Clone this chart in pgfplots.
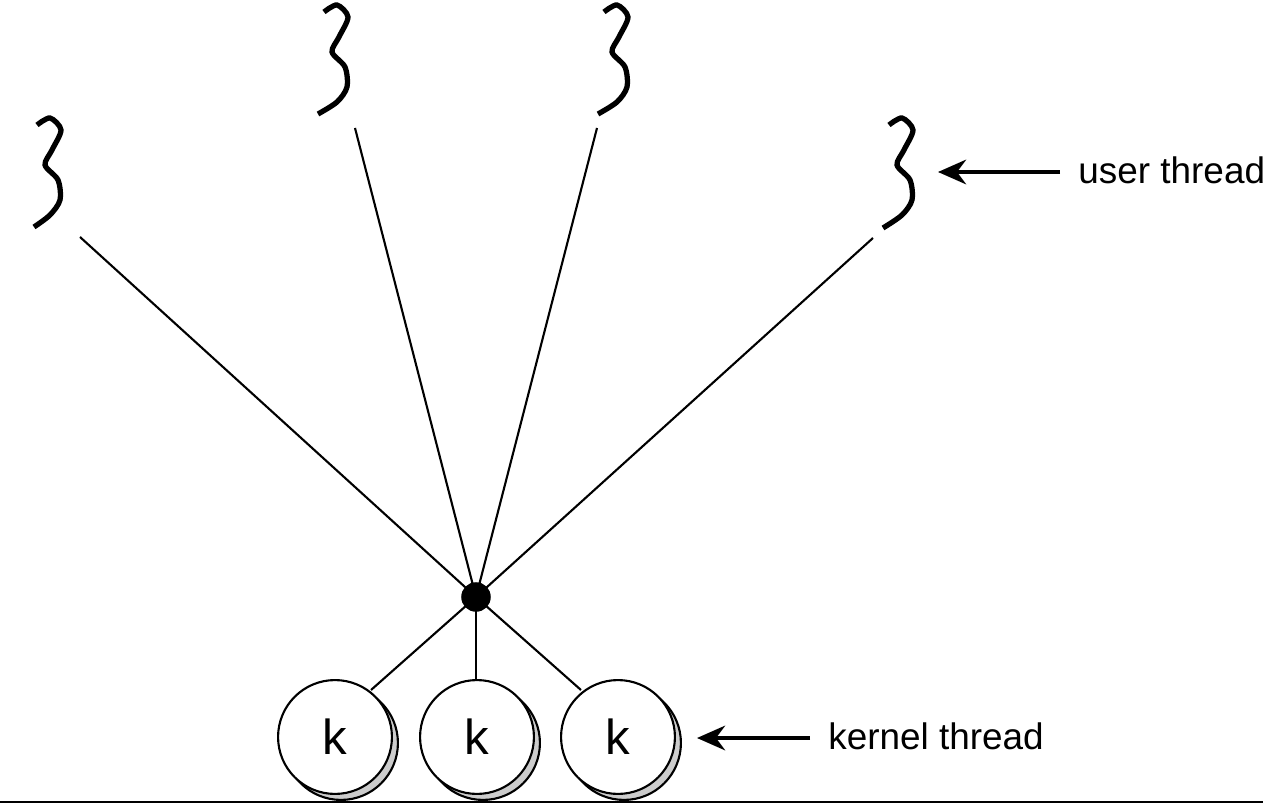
\documentclass[border=0pt]{standalone}
\usepackage{pgfplots}
\pgfplotsset{compat=1.18}
\usepackage{fontspec}
\setmainfont{Liberation Sans}
\usetikzlibrary{arrows.meta}
\begin{document}
\begin{tikzpicture}
\begin{axis}[scale only axis, width=12.63cm, height=8.05cm, xmin=0, xmax=1263, ymin=0, ymax=805, y dir=reverse, hide axis, clip=false]
\coordinate (BL) at (axis cs:0,805);
\coordinate (TR) at (axis cs:1263,0);
% connecting lines
\addplot[black, line width=0.6pt] coordinates {(80,237) (476,597)};
\addplot[black, line width=0.6pt] coordinates {(355,128) (476,597)};
\addplot[black, line width=0.6pt] coordinates {(597,128) (476,597)};
\addplot[black, line width=0.6pt] coordinates {(873,238) (476,597)};
\addplot[black, line width=0.6pt] coordinates {(476,597) (371,690)};
\addplot[black, line width=0.6pt] coordinates {(476,597) (476,685)};
\addplot[black, line width=0.6pt] coordinates {(476,597) (581,690)};
% hub
\addplot[only marks, mark=*, mark size=4pt, black] coordinates {(476,597)};
% squiggles
\addplot[black, line width=1.5pt, smooth] coordinates {(37,125) (50,118) (61,130) (52,150) (45,165) (58,180) (60,200) (50,215) (34,227)};
\addplot[black, line width=1.5pt, smooth] coordinates {(324,12) (337,5) (348,17) (339,37) (332,52) (345,67) (347,87) (337,102) (318,114)};
\addplot[black, line width=1.5pt, smooth] coordinates {(604,12) (617,5) (628,17) (619,37) (612,52) (625,67) (627,87) (617,102) (598,114)};
\addplot[black, line width=1.5pt, smooth] coordinates {(889,125) (902,118) (913,130) (904,150) (897,165) (910,180) (912,200) (902,215) (883,228)};
% kernel circles: shadows
\addplot[only marks, mark=*, mark size=16.2pt, mark options={fill=black!20, draw=black, line width=0.6pt}] coordinates {(341,743) (483,743) (624,743)};
\addplot[only marks, mark=*, mark size=16.2pt, mark options={fill=white, draw=black, line width=0.6pt},
  nodes near coords, point meta=explicit symbolic, every node near coord/.style={anchor=center, font=\fontsize{14}{16}\selectfont}] coordinates {(335,737)[k] (477,737)[k] (618,737)[k]};
% arrows
\addplot[black, line width=1.2pt, -{Stealth[length=8pt,width=7pt]}] coordinates {(1060,172) (938,172)};
\addplot[black, line width=1.2pt, -{Stealth[length=8pt,width=7pt]}] coordinates {(810,738) (697,738)};
\addplot[only marks, mark=none, nodes near coords, point meta=explicit symbolic, every node near coord/.style={anchor=west, font=\fontsize{10.5}{12}\selectfont}] coordinates {(1066,170)[user thread] (816,736)[kernel thread]};
% bottom rule
\addplot[black, line width=0.4pt] coordinates {(0,802) (1263,802)};
\end{axis}
\pgfresetboundingbox
\path[use as bounding box] (BL) rectangle (TR);
\end{tikzpicture}
\end{document}
